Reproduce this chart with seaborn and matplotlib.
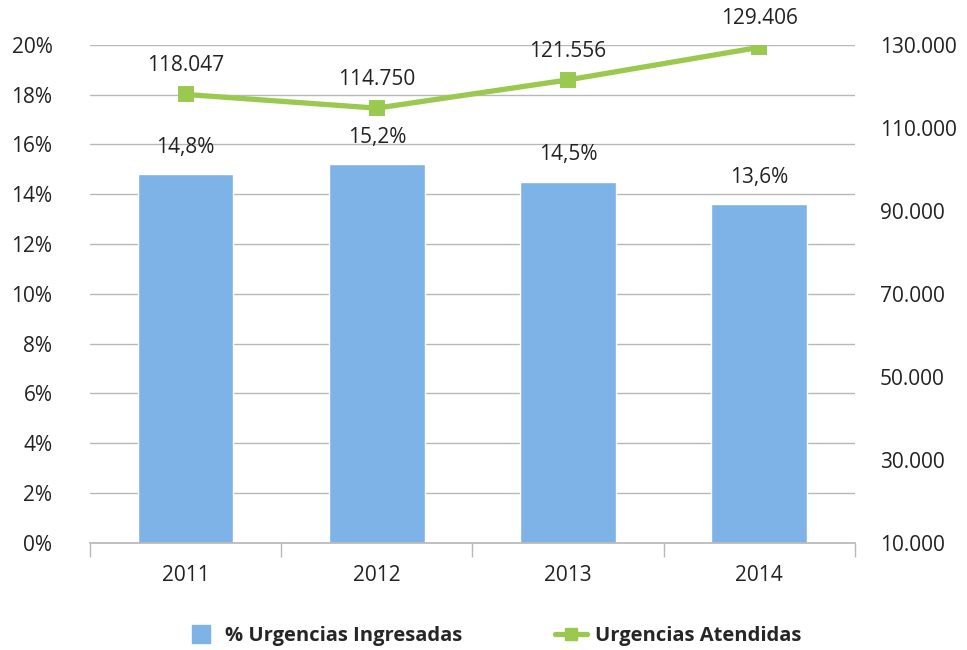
import numpy as np
import pandas as pd
import seaborn as sns
import matplotlib.pyplot as plt
from matplotlib.lines import Line2D
from matplotlib.ticker import FixedLocator, FuncFormatter

# Datos
years = ["2011", "2012", "2013", "2014"]
pct_ingresadas = [14.8, 15.2, 14.5, 13.6]
pct_labels = ["14,8%", "15,2%", "14,5%", "13,6%"]
atendidas = [118047, 114750, 121556, 129406]
atendidas_labels = ["118.047", "114.750", "121.556", "129.406"]

bar_color = "#7EB3E8"
line_color = "#9BC94F"
grid_color = "#B8B8B8"
text_color = "#222222"

sns.set_theme(style="white")
plt.rcParams["font.family"] = ["Open Sans", "DejaVu Sans"]

df = pd.DataFrame({"year": years, "pct": pct_ingresadas, "atendidas": atendidas})

fig = plt.figure(figsize=(9.67, 6.5), dpi=100)
ax = fig.add_axes([0.093, 0.165, 0.791, 0.766])

sns.barplot(data=df, x="year", y="pct", color=bar_color, width=0.5,
            saturation=1, ax=ax, zorder=2)

ax.set_ylim(0, 20)
ax.set_yticks(np.arange(0, 21, 2))
ax.yaxis.set_major_formatter(FuncFormatter(lambda v, p: f"{v:.0f}%"))
ax.yaxis.grid(True, color=grid_color, linewidth=1)
ax.set_axisbelow(True)
ax.set_xlim(-0.5, 3.5)
ax.set_xlabel("")
ax.set_ylabel("")
for s in ["top", "right", "left"]:
    ax.spines[s].set_visible(False)
ax.spines["bottom"].set_color(grid_color)
ax.tick_params(axis="y", length=0, pad=27, labelsize=15, colors=text_color)
ax.tick_params(axis="x", which="major", length=0, pad=16, labelsize=15,
               colors=text_color)
ax.xaxis.set_minor_locator(FixedLocator([-0.5, 0.5, 1.5, 2.5, 3.5]))
ax.tick_params(axis="x", which="minor", bottom=True, direction="out",
               length=10, color=grid_color, width=1)

for i, (v, lab) in enumerate(zip(pct_ingresadas, pct_labels)):
    ax.annotate(lab, (i, v), xytext=(0, 12), textcoords="offset points",
                ha="center", va="bottom", fontsize=15, color=text_color)

# Eje secundario: urgencias atendidas
ax2 = ax.twinx()
sns.pointplot(data=df, x="year", y="atendidas", color=line_color,
              markers="s", markersize=9, linewidth=3.8, ax=ax2, zorder=3)
ax2.set_ylim(10000, 130000)
ax2.set_yticks(np.arange(10000, 130001, 20000))
ax2.yaxis.set_major_formatter(
    FuncFormatter(lambda v, p: f"{int(v):,}".replace(",", ".")))
ax2.set_xlim(-0.5, 3.5)
ax2.set_ylabel("")
ax2.set_xlabel("")
for s in ["top", "right", "left", "bottom"]:
    ax2.spines[s].set_visible(False)
ax2.tick_params(axis="y", length=0, pad=18, labelsize=15, colors=text_color)

for i, (v, lab) in enumerate(zip(atendidas, atendidas_labels)):
    ax2.annotate(lab, (i, v), xytext=(0, 13), textcoords="offset points",
                 ha="center", va="bottom", fontsize=15, color=text_color)

handles = [
    Line2D([0], [0], color=bar_color, linestyle="none", marker="s",
           markersize=13, label="% Urgencias Ingresadas"),
    Line2D([0], [0], color=line_color, linewidth=3.8, marker="s",
           markersize=9, label="Urgencias Atendidas"),
]
fig.legend(handles=handles, loc="center", bbox_to_anchor=(0.51, 0.022),
           ncol=2, frameon=False, prop={"weight": "bold", "size": 14.5},
           columnspacing=4.6, handlelength=1.6, handletextpad=0.4)

fig.savefig("out.png", dpi=100)
